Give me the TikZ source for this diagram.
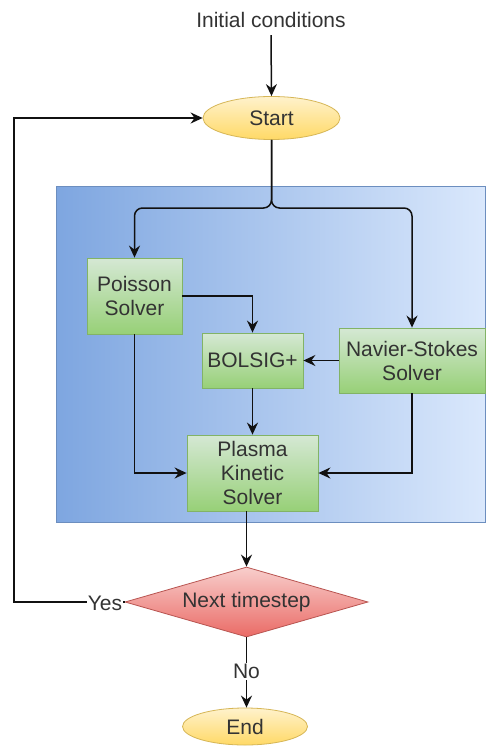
\documentclass[tikz,border=0pt]{standalone}
\usepackage{fontspec}
\setmainfont{Liberation Sans}
\usetikzlibrary{arrows.meta,shapes.geometric}
\definecolor{txt}{HTML}{333333}
\definecolor{ln}{HTML}{111111}
\tikzset{
  every node/.style={font=\fontsize{21}{24}\selectfont, text=txt, align=center},
  term/.style={ellipse, draw=yellowB, top color=yellowT, bottom color=yellowD, line width=0.8pt, inner sep=0pt},
  proc/.style={rectangle, draw=greenB, top color=greenT, bottom color=greenD, line width=0.8pt, inner sep=0pt},
  decis/.style={diamond, aspect=3.47, draw=redB, top color=redT, bottom color=redD, line width=0.8pt, inner sep=0pt},
  arr/.style={draw=ln, line width=1.5pt, -{Stealth[length=12pt,width=11pt,inset=4pt]}},
  plain/.style={draw=ln, line width=1.5pt},
  lbl/.style={fill=white, inner sep=1pt}
}
\definecolor{yellowB}{HTML}{D6B656}
\definecolor{yellowT}{HTML}{FFF2CC}
\definecolor{yellowD}{HTML}{FFD966}
\definecolor{greenB}{HTML}{82B366}
\definecolor{greenT}{HTML}{D5E8D4}
\definecolor{greenD}{HTML}{97D077}
\definecolor{redB}{HTML}{B85450}
\definecolor{redT}{HTML}{F8CECC}
\definecolor{redD}{HTML}{EA6B66}
\definecolor{blueB}{HTML}{6C8EBF}
\definecolor{blueL}{HTML}{DAE8FC}
\definecolor{blueD}{HTML}{7EA6E0}
\begin{document}
\begin{tikzpicture}[x=1pt,y=-1pt]
\useasboundingbox[fill=white] (0,0) rectangle (486,746);
% container
\path[draw=blueB, line width=0.8pt, left color=blueD, right color=blueL] (56,186) rectangle (485,522);
% nodes
\node (init) at (271,20) {Initial conditions};
\node[term, minimum width=137pt, minimum height=43pt] (start) at (271.5,118) {Start};
\node[proc, minimum width=95pt, minimum height=76pt] (poisson) at (134.5,296) {Poisson\\Solver};
\node[proc, minimum width=101pt, minimum height=55pt] (bolsig) at (252.5,360.5) {BOLSIG+};
\node[proc, minimum width=146pt, minimum height=65pt] (navier) at (412,360.5) {Navier-Stokes\\Solver};
\node[proc, minimum width=131pt, minimum height=76pt] (plasma) at (252.5,473) {Plasma\\Kinetic\\Solver};
\node[decis, minimum width=243pt, minimum height=70pt] (dec) at (246.5,602) {Next timestep};
\node[term, minimum width=125pt, minimum height=37pt] (end) at (245,726.5) {End};
\coordinate (split) at (271.5,208);
\coordinate (loop) at (14,602);
% connectors
\draw[arr] (init.south) ++(0,4) -- (start.north);
\draw[arr, rounded corners=8pt] (start.south) -- (split) -| (poisson.north);
\draw[arr, rounded corners=8pt] (start.south) -- (split) -| (navier.north);
\draw[arr] (poisson.east) -| (bolsig.north);
\draw[arr] (navier.west) -- (bolsig.east);
\draw[arr] (bolsig.south) -- (plasma.north);
\draw[arr] (poisson.south) |- (plasma.west);
\draw[arr] (navier.south) |- (plasma.east);
\draw[arr] (plasma.south -| dec.north) -- (dec.north);
\draw[arr] (dec.west) -- (loop) |- (start.west);
\node[lbl] (yes) at (105,603) {Yes};
\draw[arr] (dec.south) -- (dec.south |- end.north) node[lbl, pos=0.49] (no) {No};
\end{tikzpicture}
\end{document}
